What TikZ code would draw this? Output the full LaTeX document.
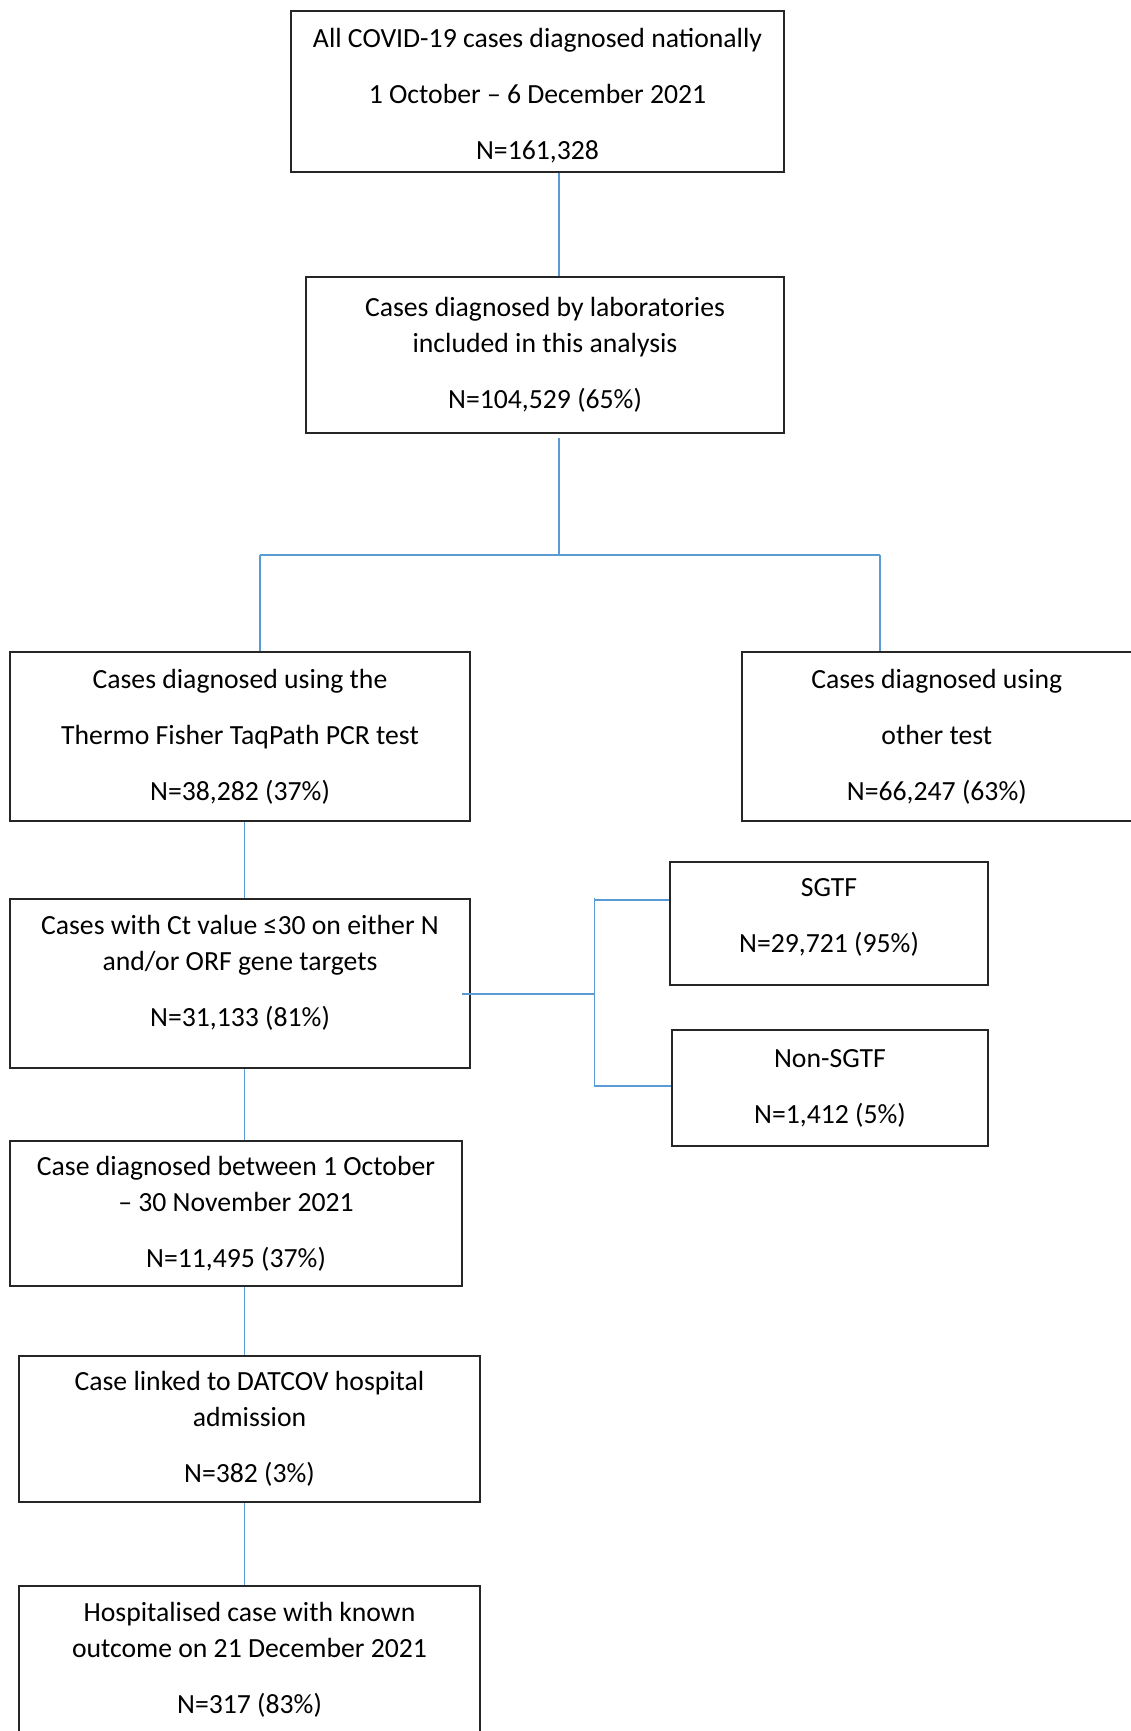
\documentclass[tikz,border=0pt]{standalone}
\usepackage{fontspec}
\setmainfont{Carlito}
\usetikzlibrary{positioning}
\definecolor{linkblue}{HTML}{5B9BD5}
\tikzstyle{box}=[draw=black!85, line width=2pt, align=center, inner sep=0pt,%
	font=\fontsize{27.7}{36}\selectfont]
\tikzstyle{link}=[draw=linkblue, line width=1.6pt]

\begin{document}
\begin{tikzpicture}[x=1pt, y=-1pt]
	\useasboundingbox (0,0) rectangle (1131,1731);
	\node[box, minimum width=493, minimum height=161] (all) at (537.5,91.5)
		{\mbox{}\\[-8pt]All COVID-19 cases diagnosed nationally\\[20pt] 1 October -- 6 December 2021\\[20pt] N=161,328};
	\node[box, minimum width=478, minimum height=156] (lab) at (545,355)
		{Cases diagnosed by laboratories\\ included in this analysis\\[20pt] N=104,529 (65\%)};
	\node[box, minimum width=460, minimum height=169] (taqpath) at (240,736.5)
		{Cases diagnosed using the\\[20pt] Thermo Fisher TaqPath PCR test\\[20pt] N=38,282 (37\%)};
	\node[box, minimum width=390, minimum height=169] (other) at (936.8,736.5)
		{Cases diagnosed using\\[20pt] other test\\[20pt] N=66,247 (63\%)};
	\node[box, minimum width=460, minimum height=169] (ctval) at (240,983.5)
		{Cases with Ct value ≤30 on either N\\ and/or ORF gene targets\\[20pt] N=31,133 (81\%)\\[-10pt]\mbox{}};
	\node[box, minimum width=318, minimum height=123] (sgtf) at (829,923.5)
		{SGTF\\[20pt] N=29,721 (95\%)\\[-20pt]\mbox{}};
	\node[box, minimum width=316, minimum height=116] (nonsgtf) at (830,1088)
		{Non-SGTF\\[20pt] N=1,412 (5\%)};
	\node[box, minimum width=452, minimum height=145] (period) at (236,1213.5)
		{Case diagnosed between 1 October\\ -- 30 November 2021\\[20pt] N=11,495 (37\%)};
	\node[box, minimum width=461, minimum height=146] (datcov) at (249.5,1429)
		{Case linked to DATCOV hospital\\ admission\\[20pt] N=382 (3\%)};
	\node[box, minimum width=461, minimum height=148] (outcome) at (249.5,1660)
		{Hospitalised case with known\\ outcome on 21 December 2021\\[20pt] N=317 (83\%)};

	\coordinate (trunk) at (559,555);
	\coordinate (brL) at (260,555);
	\coordinate (brR) at (880,555);
	\coordinate (spine) at (244.5,0);
	\coordinate (fork) at (594.6,994);
	\coordinate (forkTop) at (594.6,897.7);
	\coordinate (forkBot) at (594.6,1087);
	\coordinate (toSgtf) at (594.6,900);
	\coordinate (toNon) at (594.6,1086);

	\path[link] (all.south -| trunk) -- (lab.north -| trunk);
	\path[link] ([yshift=-4pt]lab.south -| trunk) -- (trunk);
	\path[link] (brL) -- (brR);
	\path[link] (brL) -- (brL |- taqpath.north);
	\path[link] (brR) -- (brR |- other.north);
	\path[link] (taqpath.south -| spine) -- (ctval.north -| spine);
	\path[link] ([xshift=-9pt]ctval.east |- fork) -- (fork);
	\path[link] (forkTop) -- (forkBot);
	\path[link] (toSgtf) -- (toSgtf -| sgtf.west);
	\path[link] (toNon) -- (toNon -| nonsgtf.west);
	\path[link] (ctval.south -| spine) -- (period.north -| spine);
	\path[link] (period.south -| spine) -- (datcov.north -| spine);
	\path[link] (datcov.south -| spine) -- (outcome.north -| spine);
\end{tikzpicture}
\end{document}
